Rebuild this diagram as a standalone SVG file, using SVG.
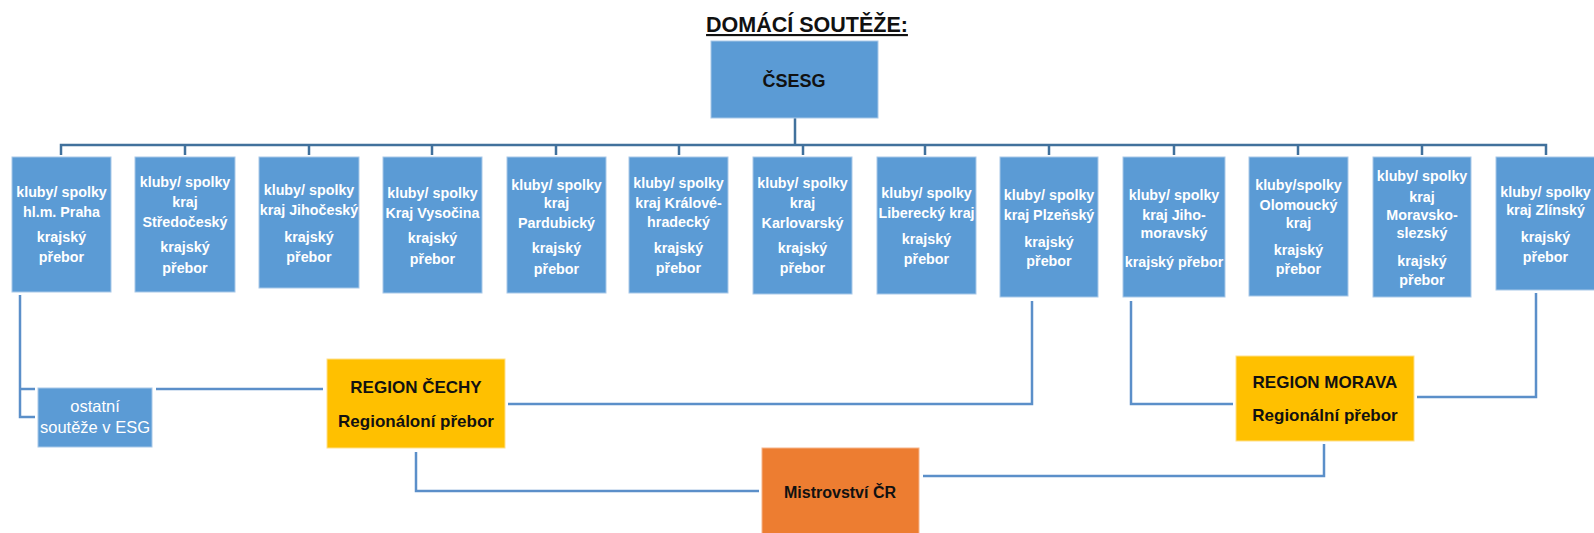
<svg xmlns="http://www.w3.org/2000/svg" width="1594" height="533" viewBox="0 0 1594 533">
<style>
.bg{fill:#ffffff}
.kb{fill:#5B9BD5;stroke:#a8c8e8;stroke-width:1}
.reg{fill:#FFC000;stroke:#ffe08a;stroke-width:1}
.mis{fill:#ED7D31;stroke:#f5b48a;stroke-width:1}
.t{font-family:"Liberation Sans",Arial,sans-serif;font-size:14.3px;font-weight:bold;fill:#ffffff;text-anchor:middle}
.tr{font-family:"Liberation Sans",Arial,sans-serif;font-size:16.5px;fill:#ffffff;text-anchor:middle}
.tb{font-family:"Liberation Sans",Arial,sans-serif;font-size:17px;font-weight:bold;fill:#111111;text-anchor:middle}
.title{font-family:"Liberation Sans",Arial,sans-serif;font-size:21.5px;font-weight:bold;fill:#111111;text-anchor:middle;text-decoration:underline}
.bus{fill:none;stroke:#41719C;stroke-width:2.5}
.c{fill:none;stroke:#5B8FC9;stroke-width:2.5}
</style>
<rect class="bg" x="0" y="0" width="1594" height="533"/>
<text class="title" x="807" y="32">DOMÁCÍ SOUTĚŽE:</text>

<g id="connectors">
<path class="bus" d="M795 118 V145 M61 155 V145 H1546 V155 M185 145 V155 M309 145 V155 M432 145 V155 M556 145 V155 M679 145 V155 M803 145 V155 M925 145 V155 M1049 145 V155 M1174 145 V155 M1298 145 V155 M1422 145 V155"/>
<path class="c" d="M20 295 V417 H35 M20 389 H35"/>
<path class="c" d="M156 389 H323"/>
<path class="c" d="M508 404 H1032 V301"/>
<path class="c" d="M416 452 V491 H759"/>
<path class="c" d="M923 476 H1324 V444"/>
<path class="c" d="M1131 301 V404 H1233"/>
<path class="c" d="M1417 397 H1536 V293"/>
</g>

<g id="csesg">
<rect class="kb" x="711" y="41" width="167" height="77"/>
<text class="tb" x="794" y="87" style="font-size:18px">ČSESG</text>
</g>

<g id="praha">
<rect class="kb" x="12" y="157" width="99" height="135"/>
<text class="t" x="61.5" y="197">kluby/ spolky</text>
<text class="t" x="61.5" y="217">hl.m. Praha</text>
<text class="t" x="61.5" y="242">krajský</text>
<text class="t" x="61.5" y="262">přebor</text>
</g>

<g id="stredocesky">
<rect class="kb" x="135" y="157" width="100" height="135"/>
<text class="t" x="185" y="187">kluby/ spolky</text>
<text class="t" x="185" y="207">kraj</text>
<text class="t" x="185" y="227">Středočeský</text>
<text class="t" x="185" y="252">krajský</text>
<text class="t" x="185" y="273">přebor</text>
</g>

<g id="jihocesky">
<rect class="kb" x="259" y="157" width="100" height="131"/>
<text class="t" x="309" y="195">kluby/ spolky</text>
<text class="t" x="309" y="215">kraj Jihočeský</text>
<text class="t" x="309" y="242">krajský</text>
<text class="t" x="309" y="262">přebor</text>
</g>

<g id="vysocina">
<rect class="kb" x="383" y="157" width="99" height="136"/>
<text class="t" x="432.5" y="198">kluby/ spolky</text>
<text class="t" x="432.5" y="218">Kraj Vysočina</text>
<text class="t" x="432.5" y="243">krajský</text>
<text class="t" x="432.5" y="264">přebor</text>
</g>

<g id="pardubicky">
<rect class="kb" x="507" y="157" width="99" height="136"/>
<text class="t" x="556.5" y="190">kluby/ spolky</text>
<text class="t" x="556.5" y="208">kraj</text>
<text class="t" x="556.5" y="228">Pardubický</text>
<text class="t" x="556.5" y="253">krajský</text>
<text class="t" x="556.5" y="274">přebor</text>
</g>

<g id="kralovehradecky">
<rect class="kb" x="629" y="157" width="99" height="136"/>
<text class="t" x="678.5" y="188">kluby/ spolky</text>
<text class="t" x="678.5" y="208">kraj Králové-</text>
<text class="t" x="678.5" y="227">hradecký</text>
<text class="t" x="678.5" y="253">krajský</text>
<text class="t" x="678.5" y="273">přebor</text>
</g>

<g id="karlovarsky">
<rect class="kb" x="753" y="157" width="99" height="137"/>
<text class="t" x="802.5" y="188">kluby/ spolky</text>
<text class="t" x="802.5" y="208">kraj</text>
<text class="t" x="802.5" y="228">Karlovarský</text>
<text class="t" x="802.5" y="253">krajský</text>
<text class="t" x="802.5" y="273">přebor</text>
</g>

<g id="liberecky">
<rect class="kb" x="877" y="157" width="99" height="137"/>
<text class="t" x="926.5" y="198">kluby/ spolky</text>
<text class="t" x="926.5" y="218">Liberecký kraj</text>
<text class="t" x="926.5" y="244">krajský</text>
<text class="t" x="926.5" y="264">přebor</text>
</g>

<g id="plzensky">
<rect class="kb" x="1000" y="157" width="98" height="140"/>
<text class="t" x="1049" y="200">kluby/ spolky</text>
<text class="t" x="1049" y="220">kraj Plzeňský</text>
<text class="t" x="1049" y="247">krajský</text>
<text class="t" x="1049" y="266">přebor</text>
</g>

<g id="jihomoravsky">
<rect class="kb" x="1123" y="157" width="102" height="140"/>
<text class="t" x="1174" y="200">kluby/ spolky</text>
<text class="t" x="1174" y="220">kraj Jiho-</text>
<text class="t" x="1174" y="238">moravský</text>
<text class="t" x="1174" y="267">krajský přebor</text>
</g>

<g id="olomoucky">
<rect class="kb" x="1249" y="157" width="99" height="139"/>
<text class="t" x="1298.5" y="190">kluby/spolky</text>
<text class="t" x="1298.5" y="210">Olomoucký</text>
<text class="t" x="1298.5" y="228">kraj</text>
<text class="t" x="1298.5" y="255">krajský</text>
<text class="t" x="1298.5" y="274">přebor</text>
</g>

<g id="moravskoslezsky">
<rect class="kb" x="1373" y="157" width="98" height="140"/>
<text class="t" x="1422" y="181">kluby/ spolky</text>
<text class="t" x="1422" y="202">kraj</text>
<text class="t" x="1422" y="220">Moravsko-</text>
<text class="t" x="1422" y="238">slezský</text>
<text class="t" x="1422" y="266">krajský</text>
<text class="t" x="1422" y="285">přebor</text>
</g>

<g id="zlinsky">
<rect class="kb" x="1496" y="157" width="99" height="133"/>
<text class="t" x="1545.5" y="197">kluby/ spolky</text>
<text class="t" x="1545.5" y="215">kraj Zlínský</text>
<text class="t" x="1545.5" y="242">krajský</text>
<text class="t" x="1545.5" y="262">přebor</text>
</g>

<g id="ostatni">
<rect class="kb" x="38" y="388" width="114" height="59"/>
<text class="tr" x="95" y="412">ostatní</text>
<text class="tr" x="95" y="433">soutěže v ESG</text>
</g>

<g id="region-cechy">
<rect class="reg" x="327" y="359" width="178" height="89"/>
<text class="tb" x="416" y="393">REGION ČECHY</text>
<text class="tb" x="416" y="427">Regionáloní přebor</text>
</g>

<g id="region-morava">
<rect class="reg" x="1236" y="356" width="178" height="85"/>
<text class="tb" x="1325" y="388">REGION MORAVA</text>
<text class="tb" x="1325" y="421">Regionální přebor</text>
</g>

<g id="mistrovstvi">
<rect class="mis" x="762" y="448" width="157" height="95"/>
<text class="tb" x="840" y="498" style="font-size:16px">Mistrovství ČR</text>
</g>
</svg>
